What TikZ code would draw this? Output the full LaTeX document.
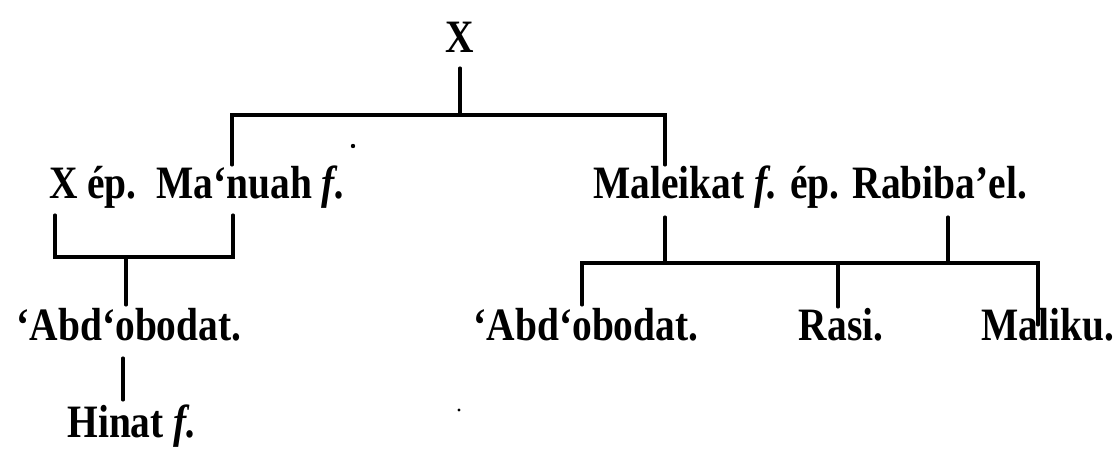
\documentclass[tikz,border=0pt]{standalone}
\usepackage{fontspec}
\setmainfont{Liberation Serif}[FakeStretch=0.85]
\begin{document}
\begin{tikzpicture}[x=0.025cm,y=-0.025cm,
  person/.style={anchor=base,inner sep=0pt,font=\fontsize{33}{38}\selectfont\bfseries},
  tieline/.style={line width=2.2pt,line cap=round,line join=miter},
  speck/.style={fill=black,draw=none}]
\useasboundingbox (0,0) rectangle (1119,448);
% people
\node[person] (x)     at (460,52)  {X};
\node[person] (mn)    at (197,198) {X ép.\ \ Ma‘nuah \textit{f.}};
\node[person] (ml)    at (810,198) {Maleikat \textit{f.} ép. Rabiba’el.};
\node[person] (abd1)  at (129,340) {‘Abd‘obodat.};
\node[person] (hinat) at (132,437) {Hinat \textit{f.}};
\node[person] (abd2)  at (586,340) {‘Abd‘obodat.};
\node[person] (rasi)  at (841,340) {Rasi.};
\node[person] (mal)   at (1048,340) {Maliku.};
% junction points
\coordinate (x0) at (460,68);
\coordinate (x1) at (460,115);
\coordinate (bl) at (232,115);
\coordinate (br) at (665,115);
\coordinate (mnt) at (232,165);
\coordinate (mlt) at (665,165);
\coordinate (p1) at (55,215);
\coordinate (p2) at (233,215);
\coordinate (q1) at (55,257);
\coordinate (q2) at (233,257);
\coordinate (s0) at (126,257);
\coordinate (s1) at (126,305);
\coordinate (h0) at (123,358);
\coordinate (h1) at (123,400);
\coordinate (r1) at (665,217);
\coordinate (r2) at (948,217);
\coordinate (r1b) at (665,263);
\coordinate (r2b) at (948,263);
\coordinate (cl) at (582,263);
\coordinate (cr) at (1038,263);
\coordinate (cm) at (838,263);
\coordinate (a2) at (582,305);
\coordinate (ra) at (838,307);
\coordinate (ma) at (1038,325);
% connectors
\draw[tieline] (x0) -- (x1);
\draw[tieline] (mnt) -- (bl) -- (br) -- (mlt);
\draw[tieline] (p1) -- (q1) -- (q2) -- (p2);
\draw[tieline] (s0) -- (s1);
\draw[tieline] (h0) -- (h1);
\draw[tieline] (r1) -- (r1b);
\draw[tieline] (r2) -- (r2b);
\draw[tieline] (a2) -- (cl) -- (cr) -- (ma);
\draw[tieline] (cm) -- (ra);
% specks
\fill[speck] (353,146) circle (2.2);
\fill[speck] (459,410) circle (1.6);
\end{tikzpicture}
\end{document}
